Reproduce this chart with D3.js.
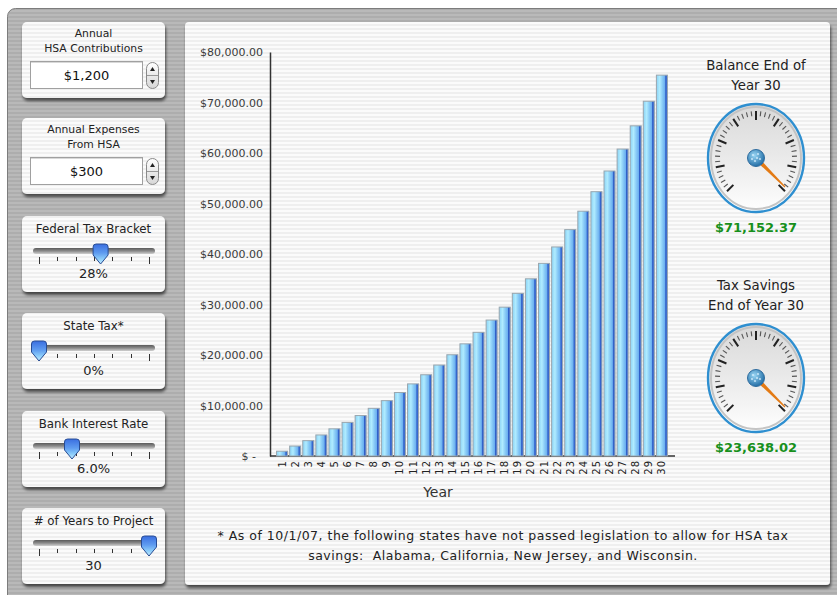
<!DOCTYPE html>
<html>
<head>
<meta charset="utf-8">
<script src="https://cdn.jsdelivr.net/npm/d3@7"></script>
<style>
    body { margin: 0; background: #fff; }
    svg { display: block; font-family: "DejaVu Sans", Verdana, sans-serif; }
</style>
</head>
<body>
<svg id="chart" width="837" height="595"></svg>
<script>
// chart data
const years = [1, 2, 3, 4, 5, 6, 7, 8, 9, 10, 11, 12, 13, 14, 15, 16, 17, 18, 19, 20, 21, 22, 23, 24, 25, 26, 27, 28, 29, 30];
const balances = [950, 1970, 3040, 4170, 5380, 6650, 8010, 9440, 10960, 12570, 14280, 16090, 18010, 20050, 22210,
    24490, 26920, 29480, 32210, 35090, 38150, 41400, 44830, 48480, 52340, 56440, 60780, 65380, 70250, 75420];
const yTicks = [0, 10000, 20000, 30000, 40000, 50000, 60000, 70000, 80000];

// gauges
const gaugeTitles = [['Balance End of', 'Year 30'], ['Tax Savings', 'End of Year 30']];
const gaugeValues = [71152.37, 23638.02];

// left controls
const inputLabels = [['Annual', 'HSA Contributions'], ['Annual Expenses', 'From HSA']];
const inputValues = ['$1,200', '$300'];
const sliderLabels = ['Federal Tax Bracket', 'State Tax*', 'Bank Interest Rate', '# of Years to Project'];
const sliderValues = [28, 0, 6, 30];
const sliderMax = [50, 10, 20, 30];
const sliderText = ['28%', '0%', '6.0%', '30'];

const footnote = ['* As of 10/1/07, the following states have not passed legislation to allow for HSA tax',
    'savings:\u00a0\u00a0Alabama, California, New Jersey, and Wisconsin.'];

const svg = d3.select('#chart');
const defs = svg.append('defs');

// stripes
function stripes(id, a, b) {
    const p = defs.append('pattern').attr('id', id).attr('patternUnits', 'userSpaceOnUse')
        .attr('width', 4).attr('height', 4);
    p.append('rect').attr('width', 4).attr('height', 4).attr('fill', a);
    p.append('rect').attr('width', 4).attr('height', 2).attr('fill', b);
}
stripes('paper', '#fbfbfb', '#efefef');
stripes('metal', '#b9b9b9', '#adadad');

const shadow = defs.append('filter').attr('id', 'shadow').attr('x', '-10%').attr('y', '-10%')
    .attr('width', '130%').attr('height', '130%');
shadow.append('feDropShadow').attr('dx', 1).attr('dy', 3).attr('stdDeviation', 1.6)
    .attr('flood-color', '#000').attr('flood-opacity', 0.6);

function linGrad(id, stops, vertical) {
    const g = defs.append('linearGradient').attr('id', id)
        .attr('x1', 0).attr('y1', 0).attr('x2', vertical ? 0 : 1).attr('y2', vertical ? 1 : 0);
    stops.forEach(s => g.append('stop').attr('offset', s[0]).attr('stop-color', s[1]));
}
linGrad('barGrad', [[0, '#8ad2f5'], [0.3, '#b0ecff'], [0.55, '#88caf6'], [0.76, '#6cb0f0'], [0.84, '#2f5fc8'], [1, '#4a7ad6']]);
linGrad('trackGrad', [[0, '#5a5a5a'], [0.5, '#8a8a8a'], [1, '#d0d0d0']], true);
linGrad('thumbGrad', [[0, '#3a6ee0'], [0.45, '#5f9cf0'], [0.75, '#8ccdfa'], [1, '#c4ecff']], true);
linGrad('stepGrad', [[0, '#ffffff'], [1, '#d6d6d6']], true);
linGrad('faceGrad', [[0, '#d9d9d9'], [0.45, '#e8e8e8'], [0.75, '#f4f4f4'], [1, '#ffffff']], true);
const hubGrad = defs.append('radialGradient').attr('id', 'hubGrad').attr('cx', '40%').attr('cy', '35%').attr('r', '65%');
hubGrad.append('stop').attr('offset', 0).attr('stop-color', '#9ad6f4');
hubGrad.append('stop').attr('offset', 1).attr('stop-color', '#236ea6');

// outer frame
svg.append('rect').attr('x', 7.5).attr('y', 8.5).attr('width', 850).attr('height', 620).attr('rx', 8)
    .attr('fill', 'url(#metal)').attr('stroke', '#7c7c7c');

// main panel
const mainPanel = { x: 185, y: 22, w: 645, h: 563 };
svg.append('rect').attr('x', mainPanel.x).attr('y', mainPanel.y).attr('width', mainPanel.w).attr('height', mainPanel.h)
    .attr('rx', 4).attr('fill', 'url(#paper)').attr('filter', 'url(#shadow)');

// ---- left controls ----
const panelTops = [22, 118, 216, 313, 411, 508];
const panelX = 22, panelW = 143, panelH = 76;
const left = svg.append('g');

panelTops.forEach(t => {
    left.append('rect').attr('x', panelX).attr('y', t).attr('width', panelW).attr('height', panelH)
        .attr('rx', 5).attr('fill', 'url(#paper)').attr('filter', 'url(#shadow)');
});

inputLabels.forEach((lines, i) => {
    const t = panelTops[i];
    lines.forEach((s, j) => {
        left.append('text').attr('x', panelX + panelW / 2).attr('y', t + 15 + j * 15)
            .attr('text-anchor', 'middle').attr('font-size', 10.8).attr('fill', '#222').text(s);
    });
    left.append('rect').attr('x', 30.5).attr('y', t + 39.5).attr('width', 112).attr('height', 27)
        .attr('fill', '#fff').attr('stroke', '#a0a0a0');
    left.append('line').attr('x1', 31).attr('x2', 142).attr('y1', t + 40.5).attr('y2', t + 40.5)
        .attr('stroke', '#d8d8d8');
    left.append('text').attr('x', 86.5).attr('y', t + 58).attr('text-anchor', 'middle')
        .attr('font-size', 13).attr('fill', '#111').text(inputValues[i]);
    // stepper
    const sx = 146, sy = t + 40;
    left.append('rect').attr('x', sx + 0.5).attr('y', sy + 0.5).attr('width', 12).attr('height', 26).attr('rx', 6)
        .attr('fill', 'url(#stepGrad)').attr('stroke', '#8a8a8a');
    left.append('line').attr('x1', sx + 1).attr('x2', sx + 12).attr('y1', sy + 13.5).attr('y2', sy + 13.5)
        .attr('stroke', '#9a9a9a');
    left.append('path').attr('d', `M${sx + 4},${sy + 9} L${sx + 9},${sy + 9} L${sx + 6.5},${sy + 5} Z`).attr('fill', '#222');
    left.append('path').attr('d', `M${sx + 4},${sy + 18} L${sx + 9},${sy + 18} L${sx + 6.5},${sy + 22} Z`).attr('fill', '#222');
});

const sliderScaleX = [39, 149];
sliderLabels.forEach((label, i) => {
    const t = panelTops[i + 2];
    left.append('text').attr('x', panelX + panelW / 2).attr('y', t + 17)
        .attr('text-anchor', 'middle').attr('font-size', 11.8).attr('fill', '#222').text(label);
    left.append('rect').attr('x', 33).attr('y', t + 32).attr('width', 122).attr('height', 6).attr('rx', 3)
        .attr('fill', 'url(#trackGrad)');
    const sx = d3.scaleLinear().domain([0, sliderMax[i]]).range(sliderScaleX);
    d3.range(7).forEach(k => {
        const tx = Math.round(sliderScaleX[0] + k * (sliderScaleX[1] - sliderScaleX[0]) / 6) + 0.5;
        const long = k === 0 || k === 6;
        left.append('line').attr('x1', tx).attr('x2', tx).attr('y1', t + 41).attr('y2', t + (long ? 48 : 45))
            .attr('stroke', '#333');
    });
    const cx = sx(sliderValues[i]), ty = t + 28;
    left.append('path')
        .attr('d', `M${cx - 7.5},${ty + 3} Q${cx - 7.5},${ty} ${cx - 4.5},${ty} L${cx + 4.5},${ty} Q${cx + 7.5},${ty} ${cx + 7.5},${ty + 3}` +
            ` L${cx + 7.5},${ty + 11} L${cx},${ty + 20} L${cx - 7.5},${ty + 11} Z`)
        .attr('fill', 'url(#thumbGrad)').attr('stroke', '#284c94').attr('stroke-width', 1);
    left.append('text').attr('x', panelX + panelW / 2).attr('y', t + 62)
        .attr('text-anchor', 'middle').attr('font-size', 13).attr('fill', '#222').text(sliderText[i]);
});

// ---- bar chart ----
const x = d3.scaleBand().domain(years).range([275, 669]).padding(0.08);
const y = d3.scaleLinear().domain([0, 80000]).range([456, 52]);
const fmt = d3.format('$,.2f');

const chart = svg.append('g');

const yAxis = chart.append('g').attr('transform', 'translate(270,0)')
    .call(d3.axisLeft(y).tickValues(yTicks).tickSize(0).tickPadding(7)
        .tickFormat(d => d === 0 ? '$ -' : fmt(d)));
yAxis.select('.domain').attr('stroke', '#333').attr('stroke-width', 1.5);
yAxis.selectAll('text').attr('font-size', 11).attr('fill', '#3a3a3a').attr('font-family', 'DejaVu Sans')
    .attr('dx', d => d === 0 ? -7 : 0);

chart.append('line').attr('x1', 270).attr('x2', x.range()[1] + 6).attr('y1', y(0)).attr('y2', y(0))
    .attr('stroke', '#333').attr('stroke-width', 1.5);

chart.append('g').selectAll('rect').data(balances).join('rect')
    .attr('x', (d, i) => x(years[i]) + 0.5)
    .attr('y', d => y(d))
    .attr('width', x.bandwidth() - 1)
    .attr('height', d => y(0) - y(d))
    .attr('fill', 'url(#barGrad)')
    .attr('stroke', '#9aa6ae').attr('stroke-width', 1);

const xAxis = chart.append('g').attr('transform', `translate(0,${y(0)})`)
    .call(d3.axisBottom(x).tickSize(0).tickSizeOuter(0));
xAxis.select('.domain').remove();
xAxis.selectAll('text')
    .attr('transform', 'rotate(-90)')
    .attr('x', -4).attr('y', 0).attr('dy', '0.35em')
    .attr('text-anchor', 'end')
    .attr('font-size', 10).attr('letter-spacing', 1)
    .attr('fill', '#222').attr('font-family', 'DejaVu Sans');

chart.append('text').attr('x', 438).attr('y', 497).attr('text-anchor', 'middle')
    .attr('font-size', 14).attr('fill', '#333').text('Year');

// ---- gauges ----
const gaugeCenters = [[756, 158], [756, 378]];
gaugeValues.forEach((v, i) => {
    const [cx, cy] = gaugeCenters[i];
    const g = svg.append('g');
    gaugeTitles[i].forEach((s, j) => {
        g.append('text').attr('x', cx).attr('y', cy - 88 + j * 20).attr('text-anchor', 'middle')
            .attr('font-size', 13.3).attr('fill', '#222').text(s);
    });
    const rx = 48, ry = 54;
    g.append('ellipse').attr('cx', cx).attr('cy', cy).attr('rx', rx).attr('ry', ry)
        .attr('fill', 'url(#faceGrad)').attr('stroke', '#2e8fd0').attr('stroke-width', 2.4);
    g.append('ellipse').attr('cx', cx).attr('cy', cy).attr('rx', rx - 3).attr('ry', ry - 3)
        .attr('fill', 'none').attr('stroke', '#c4c4c4').attr('stroke-width', 2);

    const ang = d3.scaleLinear().domain([0, v]).range([-135, 135]);
    d3.range(41).forEach(k => {
        const a = (-135 + k * 270 / 40) * Math.PI / 180;
        const major = k % 5 === 0;
        const r0 = 7, r1 = major ? 16 : 12;
        g.append('line')
            .attr('x1', cx + Math.sin(a) * (rx - r0)).attr('y1', cy - Math.cos(a) * (ry - r0))
            .attr('x2', cx + Math.sin(a) * (rx - r1)).attr('y2', cy - Math.cos(a) * (ry - r1))
            .attr('stroke', major ? '#222' : '#555').attr('stroke-width', major ? 2 : 1.1);
    });

    g.append('path').attr('d', 'M-2.2,0 L-0.6,-41 L0.6,-41 L2.2,0 Z')
        .attr('transform', `translate(${cx},${cy}) rotate(${ang(v)})`)
        .attr('fill', '#e37a14');
    g.append('circle').attr('cx', cx).attr('cy', cy).attr('r', 8.5)
        .attr('fill', 'url(#hubGrad)').attr('stroke', '#2f6c9e').attr('stroke-width', 1);
    [[-3, -3], [2, -4], [4, 1], [-1, 3], [-4, 1], [1, 0]].forEach(p => {
        g.append('circle').attr('cx', cx + p[0]).attr('cy', cy + p[1]).attr('r', 1.1).attr('fill', '#d8f0ff').attr('opacity', 0.8);
    });

    g.append('text').attr('x', cx).attr('y', cy + 74).attr('text-anchor', 'middle')
        .attr('font-size', 13).attr('font-weight', 'bold').attr('fill', '#17901c')
        .text(d3.format('$,.2f')(v));
});

// ---- footnote ----
footnote.forEach((s, j) => {
    svg.append('text').attr('x', 503).attr('y', 540 + j * 20).attr('text-anchor', 'middle')
        .attr('font-size', 12.5).attr('letter-spacing', 0.5).attr('fill', '#222').text(s);
});
</script>
</body>
</html>
